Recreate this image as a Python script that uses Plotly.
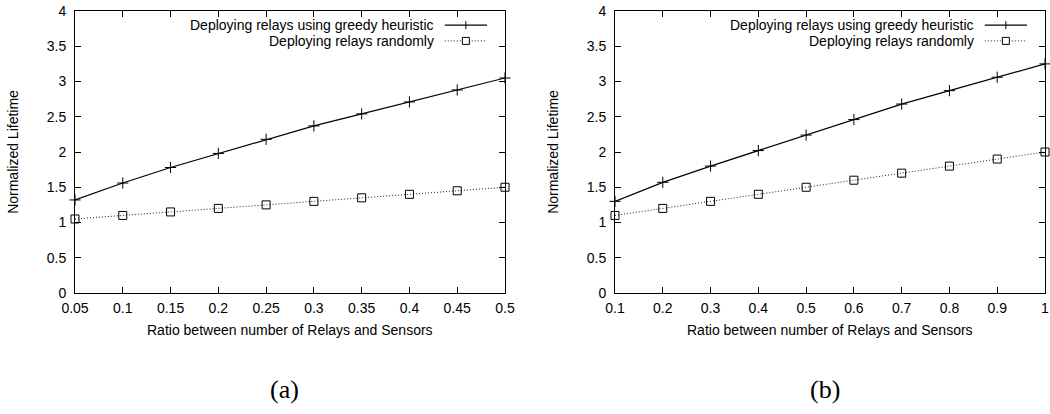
import plotly.graph_objects as go

# ---- data ----
ratio_a = [0.05, 0.1, 0.15, 0.2, 0.25, 0.3, 0.35, 0.4, 0.45, 0.5]
greedy_a = [1.32, 1.56, 1.78, 1.98, 2.18, 2.37, 2.54, 2.71, 2.88, 3.05]
random_a = [1.05, 1.10, 1.15, 1.20, 1.25, 1.30, 1.35, 1.40, 1.45, 1.50]

ratio_b = [0.1, 0.2, 0.3, 0.4, 0.5, 0.6, 0.7, 0.8, 0.9, 1.0]
greedy_b = [1.30, 1.57, 1.80, 2.02, 2.24, 2.46, 2.68, 2.87, 3.06, 3.25]
random_b = [1.10, 1.20, 1.30, 1.40, 1.50, 1.60, 1.70, 1.80, 1.90, 2.00]

name_greedy = "Deploying relays using greedy heuristic"
name_random = "Deploying relays randomly"
xlabel = "Ratio between number of Relays and Sensors"
ylabel = "Normalized Lifetime"
panel_labels = ["(a)", "(b)"]

W, H = 1050, 414
FONT = "Liberation Sans"
FS = 14
DOT = "1px,2px"

fig = go.Figure()

panels = [
    ("x", "y", ratio_a, greedy_a, random_a),
    ("x2", "y2", ratio_b, greedy_b, random_b),
]
for xa, ya, xs, g, r in panels:
    fig.add_trace(go.Scatter(
        x=xs, y=g, xaxis=xa, yaxis=ya, mode="lines+markers", name=name_greedy,
        line=dict(color="black", width=1.2),
        marker=dict(symbol="cross-thin", size=8, line=dict(color="black", width=1)),
        cliponaxis=False, showlegend=False))
    fig.add_trace(go.Scatter(
        x=xs, y=r, xaxis=xa, yaxis=ya, mode="lines+markers", name=name_random,
        line=dict(color="#222222", width=1, dash=DOT),
        marker=dict(symbol="square-open", size=8, color="black", line=dict(color="black", width=1)),
        cliponaxis=False, showlegend=False))

axis_common = dict(
    showgrid=False, zeroline=False, showline=True, linecolor="black", linewidth=1,
    mirror="ticks", ticks="inside", ticklen=6, tickcolor="black", tickwidth=1,
    tickfont=dict(family=FONT, size=FS, color="black"), automargin=False,
)
xax = dict(ticklabelstandoff=2, **axis_common)
yax = dict(ticklabelstandoff=5, range=[0, 4], dtick=0.5, domain=[0, 1],
           title=dict(text=ylabel, standoff=24, font=dict(family=FONT, size=FS, color="black")),
           **axis_common)

fig.update_layout(
    width=W, height=H,
    margin=dict(l=0, r=0, t=11, b=121),
    paper_bgcolor="white", plot_bgcolor="white",
    showlegend=False,
    xaxis=dict(domain=[75 / W, 505 / W], range=[0.05, 0.5], tick0=0.05, dtick=0.05,
               anchor="y", **xax),
    yaxis=dict(anchor="x", **yax),
    xaxis2=dict(domain=[615 / W, 1045 / W], range=[0.1, 1.0], tick0=0.1, dtick=0.1,
                anchor="y2", **xax),
    yaxis2=dict(anchor="x2", **yax),
)

# custom gnuplot-style legends, titles and panel labels
pw, ph = 430.0, 282.0
for i, (xref, yref) in enumerate([("x domain", "y domain"), ("x2 domain", "y2 domain")]):
    txt_end = 0.840
    l0, l1 = 0.860, 0.958
    mid = (l0 + l1) / 2
    y1, y2 = 0.950, 0.894
    for yy, label in [(y1, name_greedy), (y2, name_random)]:
        fig.add_annotation(xref=xref, yref=yref, x=txt_end, y=yy, text=label,
                           showarrow=False, xanchor="right", yanchor="middle",
                           font=dict(family=FONT, size=FS, color="black"))
    fig.add_shape(type="line", xref=xref, yref=yref, x0=l0, x1=l1, y0=y1, y1=y1,
                  line=dict(color="black", width=1.2))
    fig.add_shape(type="line", xref=xref, yref=yref, x0=mid, x1=mid,
                  y0=y1 - 4 / ph, y1=y1 + 4 / ph, line=dict(color="black", width=1))
    fig.add_shape(type="line", xref=xref, yref=yref, x0=l0, x1=l1, y0=y2, y1=y2,
                  line=dict(color="#222222", width=1, dash=DOT))
    fig.add_shape(type="rect", xref=xref, yref=yref, x0=mid - 3.5 / pw, x1=mid + 3.5 / pw,
                  y0=y2 - 3.5 / ph, y1=y2 + 3.5 / ph, fillcolor="white",
                  line=dict(color="black", width=1))
    # x axis title
    fig.add_annotation(xref=xref, yref=yref, x=0.5, y=-37 / ph, text=xlabel,
                       showarrow=False, xanchor="center", yanchor="middle",
                       font=dict(family=FONT, size=FS, color="black"))
    # panel label
    fig.add_annotation(xref=xref, yref=yref, x=0.488, y=-96 / ph, text=panel_labels[i],
                       showarrow=False, xanchor="center", yanchor="middle",
                       font=dict(family="Liberation Serif", size=26, color="black"))

fig.write_html("out.html")
